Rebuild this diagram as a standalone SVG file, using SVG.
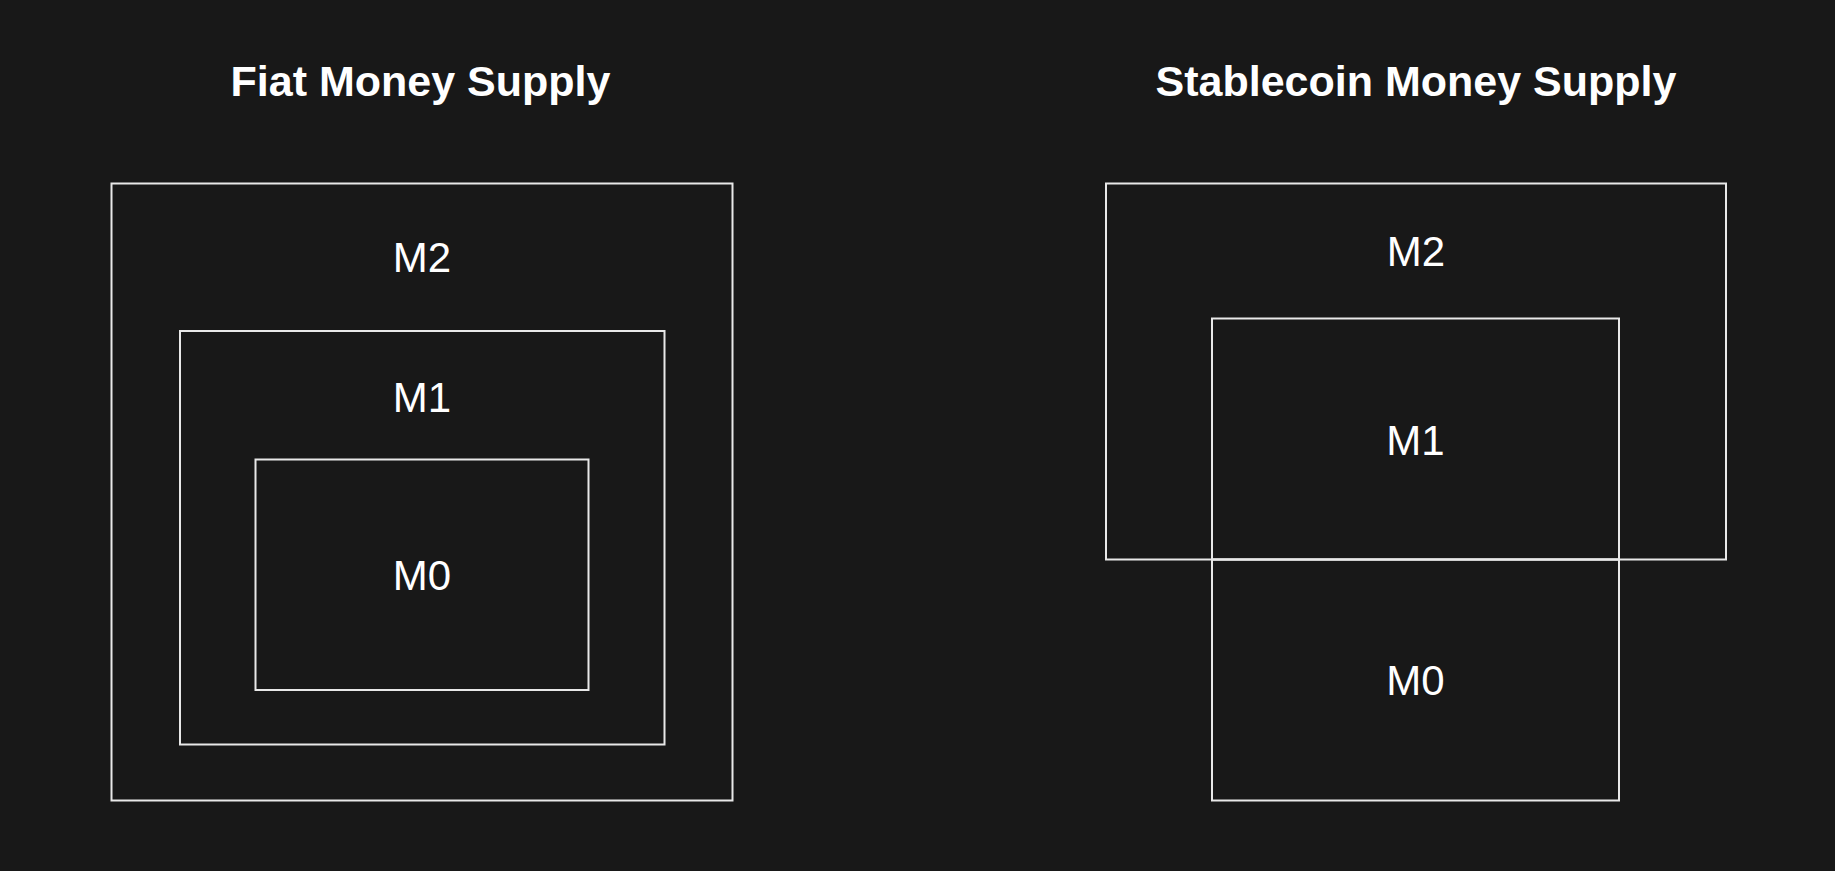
<svg xmlns="http://www.w3.org/2000/svg" width="1835" height="871" viewBox="0 0 1835 871">
<style>
.box{fill:none;stroke:#e8e8e8;stroke-width:2}
.lbl{font-family:"Liberation Sans",Arial,sans-serif;font-size:42px;fill:#ffffff;text-anchor:middle}
.ttl{font-family:"Liberation Sans",Arial,sans-serif;font-size:43px;font-weight:bold;fill:#ffffff;text-anchor:middle}
</style>
<rect x="0" y="0" width="1835" height="871" fill="#181818"/>
<g id="fiat">
<text class="ttl" x="420.5" y="96">Fiat Money Supply</text>
<g id="fiat-m2"><rect class="box" x="111.5" y="183.5" width="621" height="617"/><text class="lbl" x="422" y="272">M2</text></g>
<g id="fiat-m1"><rect class="box" x="180" y="331" width="484.5" height="413.5"/><text class="lbl" x="422" y="412">M1</text></g>
<g id="fiat-m0"><rect class="box" x="255.5" y="459.5" width="333" height="230.5"/><text class="lbl" x="422" y="590">M0</text></g>
</g>
<g id="stable">
<text class="ttl" x="1416" y="96">Stablecoin Money Supply</text>
<g id="stable-m2"><rect class="box" x="1106" y="183.5" width="620" height="376"/><text class="lbl" x="1416" y="266">M2</text></g>
<g id="stable-m1"><rect class="box" x="1212" y="318.5" width="407" height="241"/><text class="lbl" x="1415.5" y="455">M1</text></g>
<g id="stable-m0"><rect class="box" x="1212" y="559.5" width="407" height="241"/><text class="lbl" x="1415.5" y="695">M0</text></g>
</g>
<g id="connectors"></g>
</svg>
